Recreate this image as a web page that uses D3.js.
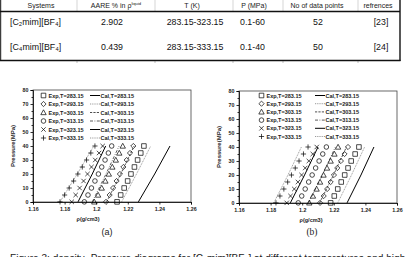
<!DOCTYPE html>
<html>
<head>
<meta charset="utf-8">
<script src="https://cdn.jsdelivr.net/npm/d3@7"></script>
<style>
  body { margin: 0; background: #fff; }
  svg { display: block; }
</style>
</head>
<body>
<script>
// ---- table data
var tableHead = ["Systems", "AARE %  in \u03c1", "T (K)", "P (MPa)", "No of data points", "refrences"];
var tableRow1 = ["[C\u2082mim][BF\u2084]", "2.902", "283.15-323.15", "0.1-60", "52", "[23]"];
var tableRow2 = ["[C\u2084mim][BF\u2084]", "0.439", "283.15-333.15", "0.1-40", "50", "[24]"];

// ---- chart data
var pressures = [0.1, 5, 10, 15, 20, 25, 30, 35, 40];
var temps = ["283.15", "293.15", "303.15", "313.15", "323.15", "333.15"];
var yTicks = [0, 10, 20, 30, 40, 50, 60, 70, 80];
var xTicks = [1.16, 1.18, 1.2, 1.22, 1.24, 1.26];

// (a) [C2mim][BF4] experimental densities
var expA283 = [1.2132, 1.2155, 1.2177, 1.2199, 1.2220, 1.2242, 1.2262, 1.2282, 1.2302];
var expA293 = [1.2062, 1.2085, 1.2107, 1.2129, 1.2150, 1.2172, 1.2193, 1.2214, 1.2235];
var expA303 = [1.1988, 1.2012, 1.2035, 1.2058, 1.2080, 1.2102, 1.2124, 1.2146, 1.2168];
var expA313 = [1.1925, 1.1948, 1.1970, 1.1992, 1.2014, 1.2035, 1.2056, 1.2077, 1.2098];
var expA323 = [1.1845, 1.1870, 1.1895, 1.1920, 1.1945, 1.1970, 1.1994, 1.2018, 1.2041];
var expA333 = [1.1771, 1.1800, 1.1829, 1.1857, 1.1884, 1.1912, 1.1939, 1.1966, 1.1992];
// (a) calculated lines (P = 0.1, 20, 40)
var calP = [0.1, 20, 40];
var calA283 = [1.2267, 1.2370, 1.2467];
var calA293 = [1.2161, 1.2255, 1.2345];
var calA303 = [1.2066, 1.2155, 1.2240];
var calA313 = [1.1975, 1.2062, 1.2145];
var calA323 = [1.1885, 1.1975, 1.2060];
var calA333 = [1.1771, 1.1880, 1.1985];

// (b) [C4mim][BF4] experimental densities
var expB283 = [1.2180, 1.2203, 1.2225, 1.2247, 1.2269, 1.2290, 1.2310, 1.2335, 1.2359];
var expB293 = [1.2113, 1.2136, 1.2158, 1.2180, 1.2201, 1.2222, 1.2245, 1.2268, 1.2290];
var expB303 = [1.2045, 1.2068, 1.2091, 1.2113, 1.2135, 1.2157, 1.2180, 1.2204, 1.2227];
var expB313 = [1.1975, 1.1997, 1.2019, 1.2041, 1.2063, 1.2085, 1.2107, 1.2130, 1.2153];
var expB323 = [1.1902, 1.1926, 1.1950, 1.1973, 1.1996, 1.2019, 1.2042, 1.2067, 1.2092];
var expB333 = [1.1834, 1.1859, 1.1884, 1.1908, 1.1932, 1.1956, 1.1980, 1.2008, 1.2037];
var calB283 = [1.2284, 1.2372, 1.2454];
var calB293 = [1.2225, 1.2312, 1.2395];
var calB303 = [1.2110, 1.2198, 1.2280];
var calB313 = [1.2040, 1.2128, 1.2210];
var calB323 = [1.1925, 1.2015, 1.2100];
var calB333 = [1.1820, 1.1910, 1.1995];

var W = 408, H = 257;
var svg = d3.select("body").append("svg")
  .attr("width", W).attr("height", H)
  .style("background", "#fff");

// ---------- table
var tbl = svg.append("g").attr("font-family", "Liberation Sans, Arial, sans-serif");
var headX = [41, 116, 192, 254, 317, 378];
var rowX = [10, 112, 195, 240, 318, 381];
var rowAnchor = ["start", "middle", "middle", "start", "middle", "middle"];
var sepX = [77, 155, 233, 283, 358];

tbl.selectAll(".sep").data(sepX).enter().append("line")
  .attr("x1", d => d).attr("x2", d => d).attr("y1", 0).attr("y2", 11)
  .attr("stroke", "#bbb").attr("stroke-width", 0.6);
tbl.selectAll(".sepb").data(sepX).enter().append("line")
  .attr("x1", d => d).attr("x2", d => d).attr("y1", 61).attr("y2", 63)
  .attr("stroke", "#999").attr("stroke-width", 0.6);

tbl.selectAll(".hd").data(tableHead).enter().append("text")
  .attr("x", (d, i) => headX[i]).attr("y", 8)
  .attr("text-anchor", "middle").attr("font-size", 7).attr("fill", "#222")
  .each(function(d, i) {
    var t = d3.select(this);
    t.text(d);
    if (i === 1) t.append("tspan").attr("font-size", 4.2).attr("dy", -3).text("liquid");
  });

[tableRow1, tableRow2].forEach(function(row, r) {
  tbl.selectAll(".r" + r).data(row).enter().append("text")
    .attr("x", (d, i) => rowX[i]).attr("y", r === 0 ? 24.5 : 49.5)
    .attr("text-anchor", (d, i) => rowAnchor[i])
    .attr("font-size", 8.8).attr("fill", "#111")
    .text(d => d);
});

tbl.append("line").attr("x1", 0).attr("x2", 400).attr("y1", 11.5).attr("y2", 11.5)
  .attr("stroke", "#111").attr("stroke-width", 1.6);
tbl.append("line").attr("x1", 0).attr("x2", 400.5).attr("y1", 60.5).attr("y2", 60.5)
  .attr("stroke", "#111").attr("stroke-width", 1.6);
tbl.append("line").attr("x1", 400).attr("x2", 400).attr("y1", 0).attr("y2", 61)
  .attr("stroke", "#111").attr("stroke-width", 1.4);
tbl.append("line").attr("x1", 0.7).attr("x2", 0.7).attr("y1", 0).attr("y2", 61)
  .attr("stroke", "#111").attr("stroke-width", 1);

// ---------- markers
function markerPath(type, cx, cy) {
  var p = d3.path(), s;
  if (type === "square") { s = 2.3; p.rect(cx - s, cy - s, 2 * s, 2 * s); }
  else if (type === "diamond") { s = 2.6; p.moveTo(cx, cy - s); p.lineTo(cx + s, cy); p.lineTo(cx, cy + s); p.lineTo(cx - s, cy); p.closePath(); }
  else if (type === "triangle") { s = 2.7; p.moveTo(cx, cy - s); p.lineTo(cx + s, cy + s * 0.8); p.lineTo(cx - s, cy + s * 0.8); p.closePath(); }
  else if (type === "circle") { s = 2.3; p.moveTo(cx + s, cy); p.arc(cx, cy, s, 0, 2 * Math.PI); }
  else if (type === "times") { s = 2.2; p.moveTo(cx - s, cy - s); p.lineTo(cx + s, cy + s); p.moveTo(cx + s, cy - s); p.lineTo(cx - s, cy + s); }
  else { s = 2.6; p.moveTo(cx - s, cy); p.lineTo(cx + s, cy); p.moveTo(cx, cy - s); p.lineTo(cx, cy + s); }
  return p.toString();
}
var markerTypes = ["square", "diamond", "triangle", "circle", "times", "plus"];
var lineDash = [null, "1,0.8", "2.2,1.2", "3,1.5,0.8,1.5", null, "1,0.8"];
var lineWidth = [1, 0.6, 0.8, 0.8, 1, 0.6];
var lineColor = ["#000", "#555", "#222", "#333", "#000", "#555"];

function drawChart(opt) {
  var g = svg.append("g").attr("font-family", "Liberation Sans, Arial, sans-serif").attr("font-weight", "bold");
  var x = d3.scaleLinear().domain([1.16, 1.26]).range([opt.x0, opt.x1]);
  var y = d3.scaleLinear().domain([0, 80]).range([opt.y0, opt.y1]);

  // plot border
  g.append("rect").attr("x", opt.x0).attr("y", opt.y1)
    .attr("width", opt.x1 - opt.x0).attr("height", opt.y0 - opt.y1)
    .attr("fill", "none").attr("stroke", "#444").attr("stroke-width", 0.8);

  g.append("g").attr("transform", "translate(" + opt.x0 + ",0)")
    .call(d3.axisLeft(y).tickValues(yTicks).tickSize(2.5).tickPadding(2).tickFormat(d3.format("d")));
  g.append("g").attr("transform", "translate(" + opt.x0 + ",0)")
    .call(d3.axisLeft(y).tickValues([5, 15, 25, 35, 45, 55, 65, 75]).tickSize(1.5).tickFormat(""))
    .call(a => a.select(".domain").remove());
  g.append("g").attr("transform", "translate(0," + opt.y0 + ")")
    .call(d3.axisBottom(x).tickValues(xTicks).tickSize(2.5).tickPadding(3).tickFormat(d => d3.format("")(+d.toFixed(2))));
  g.selectAll(".tick text").attr("font-size", 5.3).attr("font-family", "Liberation Sans, Arial, sans-serif").attr("fill", "#222");
  g.selectAll(".domain, .tick line").attr("stroke", "#000").attr("stroke-width", 0.8);

  g.append("text").attr("transform", "translate(" + (opt.x0 - 18) + "," + ((opt.y0 + opt.y1) / 2) + ") rotate(-90)")
    .attr("text-anchor", "middle").attr("font-size", 6).attr("fill", "#222").text("Pressure(MPa)");
  g.append("text").attr("x", opt.xLabelX).attr("y", opt.y0 + 19)
    .attr("text-anchor", "middle").attr("font-size", 5.5).attr("fill", "#222").text("\u03c1(g/cm3)");

  var line = d3.line().x(d => x(d[1])).y(d => y(d[0]));
  opt.cal.forEach(function(vals, i) {
    g.append("path").datum(calP.map((p, k) => [p, vals[k]]))
      .attr("d", line).attr("fill", "none")
      .attr("stroke", lineColor[i]).attr("stroke-width", lineWidth[i])
      .attr("stroke-dasharray", lineDash[i]);
  });
  opt.exp.forEach(function(vals, i) {
    g.append("g").selectAll("path").data(pressures.map((p, k) => [p, vals[k]])).enter().append("path")
      .attr("d", d => markerPath(markerTypes[i], x(d[1]), y(d[0])))
      .attr("fill", "none").attr("stroke", "#000").attr("stroke-width", 0.7);
  });

  // legend
  var lg = g.append("g");
  temps.forEach(function(t, i) {
    var ly = opt.legY + i * opt.legDy;
    lg.append("path").attr("d", markerPath(markerTypes[i], opt.legX, ly))
      .attr("fill", "none").attr("stroke", "#000").attr("stroke-width", 0.7);
    lg.append("text").attr("x", opt.legX + 5).attr("y", ly + 2).attr("font-size", 5.5).attr("fill", "#222")
      .text("Exp,T=" + t);
    lg.append("line").attr("x1", opt.legX2).attr("x2", opt.legX2 + 10).attr("y1", ly).attr("y2", ly)
      .attr("stroke", lineColor[i]).attr("stroke-width", lineWidth[i]).attr("stroke-dasharray", lineDash[i]);
    lg.append("text").attr("x", opt.legX2 + 10.5).attr("y", ly + 2).attr("font-size", 5.5).attr("fill", "#222")
      .text("Cal,T=" + t);
  });
}

drawChart({
  x0: 33, x1: 191, y0: 202, y1: 90, xLabelX: 88,
  legX: 43.5, legY: 95.5, legDy: 8.5, legX2: 90,
  exp: [expA283, expA293, expA303, expA313, expA323, expA333],
  cal: [calA283, calA293, calA303, calA313, calA323, calA333]
});
drawChart({
  x0: 239, x1: 397, y0: 203, y1: 91, xLabelX: 311,
  legX: 261.5, legY: 95.5, legDy: 8.2, legX2: 315,
  exp: [expB283, expB293, expB303, expB313, expB323, expB333],
  cal: [calB283, calB293, calB303, calB313, calB323, calB333]
});

// sub captions
svg.append("text").attr("x", 107).attr("y", 235).attr("text-anchor", "middle")
  .attr("font-family", "Liberation Sans, Arial, sans-serif").attr("font-size", 9).attr("fill", "#222").text("(a)");
svg.append("text").attr("x", 312).attr("y", 235).attr("text-anchor", "middle")
  .attr("font-family", "Liberation Serif, Times New Roman, serif").attr("font-size", 9.5).attr("fill", "#222").text("(b)");

// figure caption (cut at the bottom edge, as in the source)
var cap = svg.append("text").attr("x", 10).attr("y", 261.5)
  .attr("font-family", "Liberation Sans, Arial, sans-serif").attr("font-size", 10.1).attr("fill", "#222");
cap.append("tspan").text("Figure 3: density- Pressure diagrams for [C");
cap.append("tspan").attr("font-size", 7).attr("dy", 2).text("2");
cap.append("tspan").attr("dy", -2).text("mim][BF");
cap.append("tspan").attr("font-size", 7).attr("dy", 2).text("4");
cap.append("tspan").attr("dy", -2).text("] at different temperatures and high");
</script>
</body>
</html>
